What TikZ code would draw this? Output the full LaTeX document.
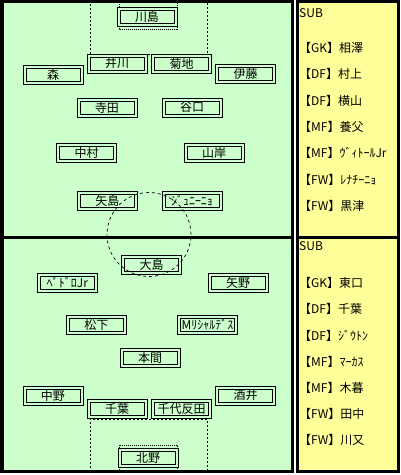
\documentclass[tikz,border=0pt]{standalone}
\usepackage{fontspec}
\setmainfont{Noto Sans CJK JP}
\definecolor{pitch}{HTML}{CCFFCC}
\definecolor{bench}{HTML}{FFFF99}
\tikzset{
 player/.style={draw=black, line width=1pt, fill=pitch, minimum width=60pt, minimum height=19pt, inner sep=0pt, font=\fontsize{12}{12}\selectfont,
   path picture={\draw[black, line width=1pt] ([shift={(3pt,-3pt)}]path picture bounding box.north west) rectangle ([shift={(-3pt,3pt)}]path picture bounding box.south east);}},
 subtxt/.style={anchor=west, inner sep=0pt, font=\fontsize{12}{12}\selectfont},
 thickborder/.style={draw=black, line width=3pt},
 penline/.style={draw=black, line width=0.8pt, dash pattern=on 2pt off 2pt},
 goalline/.style={draw=black, line width=0.8pt, dash pattern=on 1pt off 1pt},
 circline/.style={draw=black, line width=0.7pt, dash pattern=on 3pt off 3pt},
}
\begin{document}
\begin{tikzpicture}[x=1pt,y=-1pt]
\useasboundingbox (0,0) rectangle (401,475);
% pitch and bench panels
\fill[pitch] (2,1.5) rectangle (292,471);
\fill[bench] (297.5,1.5) rectangle (398.5,471);
% markings (top)
\draw[penline] (90,0) -- (90,54) -- (207,54) -- (207,0);
\draw[goalline] (119,0) -- (119,29) -- (177,29) -- (177,0);
% markings (bottom)
\draw[penline] (90,472) -- (90,419) -- (207,419) -- (207,472);
\draw[goalline] (119,472) -- (119,445) -- (177,445) -- (177,472);
% borders
\draw[thickborder] (2,1.5) rectangle (292,471);
\draw[thickborder] (297.5,1.5) rectangle (398.5,471);
\draw[thickborder] (2,237.5) -- (292,237.5);
\draw[thickborder] (297.5,237.5) -- (398.5,237.5);
% top team
\node[player] (kawashima) at (147,17) {川島};
\node[player] (ikawa) at (117,63.5) {井川};
\node[player] (kikuchi) at (181.5,63.5) {菊地};
\node[player] (mori) at (53,74.5) {森};
\node[player] (ito) at (245.5,74) {伊藤};
\node[player] (terada) at (107,107.5) {寺田};
\node[player] (taniguchi) at (192,107.5) {谷口};
\node[player] (nakamura) at (86.5,153) {中村};
\node[player] (yamagishi) at (214,153) {山岸};
\node[player] (yajima) at (107.5,200.5) {矢島};
\node[player] (juninho) at (192,200.5) {ｼﾞｭﾆｰﾆｮ};
% bottom team
\node[player] (oshima) at (151.5,265) {大島};
\node[player] (pedro) at (67.5,283) {ﾍﾟﾄﾞﾛJr};
\node[player] (yano) at (238,282.5) {矢野};
\node[player] (matsushita) at (96.5,325) {松下};
\node[player] (richardes) at (207.5,325) {Mﾘｼｬﾙﾃﾞｽ};
\node[player] (homma) at (150,358) {本間};
\node[player] (nakano) at (53,396) {中野};
\node[player] (sakai) at (245.5,395.5) {酒井};
\node[player] (chiba) at (117,409) {千葉};
\node[player] (chiyotanda) at (181.5,409) {千代反田};
\node[player] (kitano) at (148,458) {北野};
% centre circle
\node[circline, circle, minimum size=84pt, inner sep=0pt] (centre) at (149,234.5) {};
% substitutes (top)
\node[subtxt] (subA) at (299,13) {SUB};
\node[subtxt] (a1) at (299,48) {【GK】相澤};
\node[subtxt] (a2) at (299,74.3) {【DF】村上};
\node[subtxt] (a3) at (299,100.6) {【DF】横山};
\node[subtxt] (a4) at (299,127) {【MF】養父};
\node[subtxt] (a5) at (299,153.3) {【MF】ｳﾞｨﾄｰﾙJr};
\node[subtxt] (a6) at (299,179.6) {【FW】ﾚﾅﾁｰﾆｮ};
\node[subtxt] (a7) at (299,206) {【FW】黒津};
% substitutes (bottom)
\node[subtxt] (subB) at (299,246.5) {SUB};
\node[subtxt] (b1) at (299,283) {【GK】東口};
\node[subtxt] (b2) at (299,309.2) {【DF】千葉};
\node[subtxt] (b3) at (299,335.4) {【DF】ｼﾞｳﾄﾝ};
\node[subtxt] (b4) at (299,361.6) {【MF】ﾏｰｶｽ};
\node[subtxt] (b5) at (299,387.8) {【MF】木暮};
\node[subtxt] (b6) at (299,414) {【FW】田中};
\node[subtxt] (b7) at (299,440.2) {【FW】川又};
\end{tikzpicture}
\end{document}
